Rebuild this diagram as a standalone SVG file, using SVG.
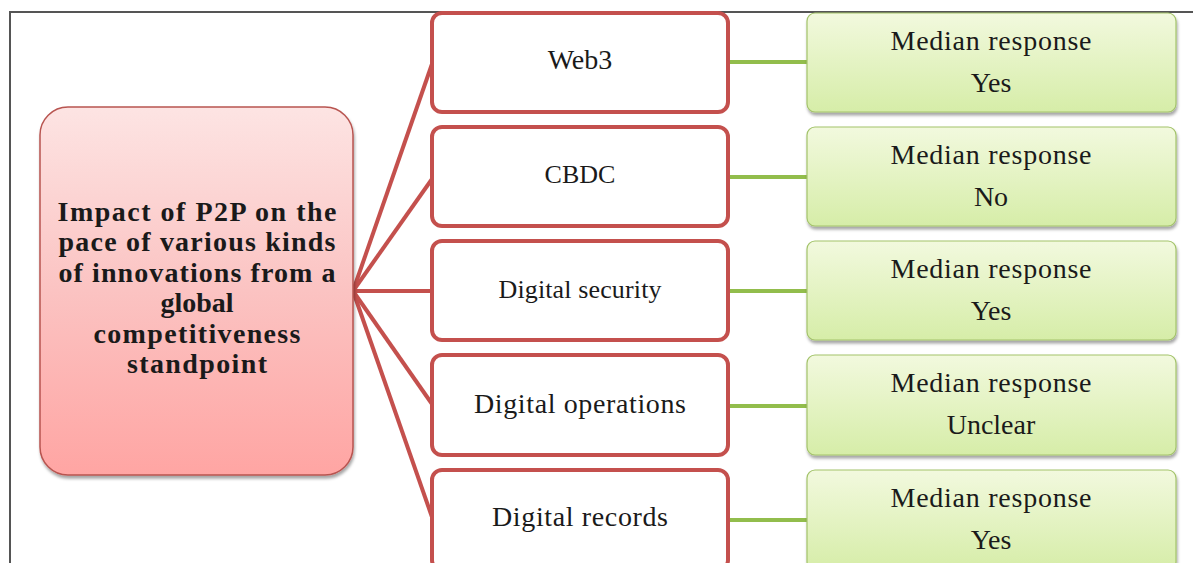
<svg xmlns="http://www.w3.org/2000/svg" width="1195" height="563" viewBox="0 0 1195 563">
<defs>
<linearGradient id="gRed" x1="0" y1="0" x2="0" y2="1">
<stop offset="0" stop-color="#fde4e3"/>
<stop offset="0.5" stop-color="#fbc3c2"/>
<stop offset="1" stop-color="#ffa5a3"/>
</linearGradient>
<linearGradient id="gGreen" x1="0" y1="0" x2="0" y2="1">
<stop offset="0" stop-color="#f2f9de"/>
<stop offset="1" stop-color="#d6eda8"/>
</linearGradient>
<filter id="shadow" x="-5%" y="-5%" width="110%" height="120%">
<feDropShadow dx="1" dy="3" stdDeviation="1.5" flood-color="#000" flood-opacity="0.35"/>
</filter>
<style>
.frame{fill:none;stroke:#555;stroke-width:2}
.root{fill:url(#gRed);stroke:#b85450;stroke-width:1.5;filter:url(#shadow)}
.mid{fill:#fff;stroke:#c4504d;stroke-width:4}
.resp{fill:url(#gGreen);stroke:#a3c36a;stroke-width:1.2;filter:url(#shadow)}
.red{stroke:#c4504d;stroke-width:4;fill:none}
.grn{stroke:#92bd4c;stroke-width:4;fill:none}
text{font-family:"Liberation Serif","Times New Roman",serif;fill:#1a1a1a;text-anchor:middle}
.title{font-size:28px;font-weight:bold}
.lbl{font-size:28px}
.rt{font-size:28px}
</style>
</defs>
<path class="frame" d="M10,563 V12 H1193"/>
<g id="connectors">
<path class="red" d="M353,291 L432,64"/>
<path class="red" d="M353,291 L432,179"/>
<path class="red" d="M353,291 L432,291"/>
<path class="red" d="M353,291 L432,404"/>
<path class="red" d="M353,291 L432,517"/>
<path class="grn" d="M728,62 H807"/>
<path class="grn" d="M728,177 H807"/>
<path class="grn" d="M728,291 H807"/>
<path class="grn" d="M728,406 H807"/>
<path class="grn" d="M728,520 H807"/>
</g>
<g id="root">
<rect class="root" x="40" y="107" width="313" height="368" rx="28"/>
<text class="title" x="197" y="221" textLength="279" lengthAdjust="spacing">Impact of P2P on the</text>
<text class="title" x="197" y="251" textLength="277" lengthAdjust="spacing">pace of various kinds</text>
<text class="title" x="197" y="282" textLength="277" lengthAdjust="spacing">of innovations from a</text>
<text class="title" x="197" y="312">global</text>
<text class="title" x="197" y="343" textLength="207" lengthAdjust="spacing">competitiveness</text>
<text class="title" x="197" y="373" textLength="140" lengthAdjust="spacing">standpoint</text>
</g>
<g id="web3">
<rect class="mid" x="432" y="13" width="296" height="99" rx="10"/>
<text class="lbl" x="580" y="69">Web3</text>
</g>
<g id="cbdc">
<rect class="mid" x="432" y="127" width="296" height="99" rx="10"/>
<text class="lbl" x="580" y="183" style="font-size:26px">CBDC</text>
</g>
<g id="security">
<rect class="mid" x="432" y="241" width="296" height="99" rx="10"/>
<text class="lbl" x="580" y="298" style="font-size:26px" textLength="163" lengthAdjust="spacing">Digital security</text>
</g>
<g id="operations">
<rect class="mid" x="432" y="355" width="296" height="100" rx="10"/>
<text class="lbl" x="580" y="413" textLength="212" lengthAdjust="spacing">Digital operations</text>
</g>
<g id="records">
<rect class="mid" x="432" y="470" width="296" height="100" rx="10"/>
<text class="lbl" x="580" y="526" textLength="176" lengthAdjust="spacing">Digital records</text>
</g>
<g id="resp1">
<rect class="resp" x="807" y="13" width="369" height="99" rx="8"/>
<text class="rt" x="991" y="50" textLength="201" lengthAdjust="spacing">Median response</text>
<text class="rt" x="991" y="92">Yes</text>
</g>
<g id="resp2">
<rect class="resp" x="807" y="127" width="369" height="99" rx="8"/>
<text class="rt" x="991" y="164" textLength="201" lengthAdjust="spacing">Median response</text>
<text class="rt" x="991" y="206">No</text>
</g>
<g id="resp3">
<rect class="resp" x="807" y="241" width="369" height="99" rx="8"/>
<text class="rt" x="991" y="278" textLength="201" lengthAdjust="spacing">Median response</text>
<text class="rt" x="991" y="320">Yes</text>
</g>
<g id="resp4">
<rect class="resp" x="807" y="355" width="369" height="100" rx="8"/>
<text class="rt" x="991" y="392" textLength="201" lengthAdjust="spacing">Median response</text>
<text class="rt" x="991" y="434">Unclear</text>
</g>
<g id="resp5">
<rect class="resp" x="807" y="470" width="369" height="100" rx="8"/>
<text class="rt" x="991" y="507" textLength="201" lengthAdjust="spacing">Median response</text>
<text class="rt" x="991" y="549">Yes</text>
</g>
</svg>
